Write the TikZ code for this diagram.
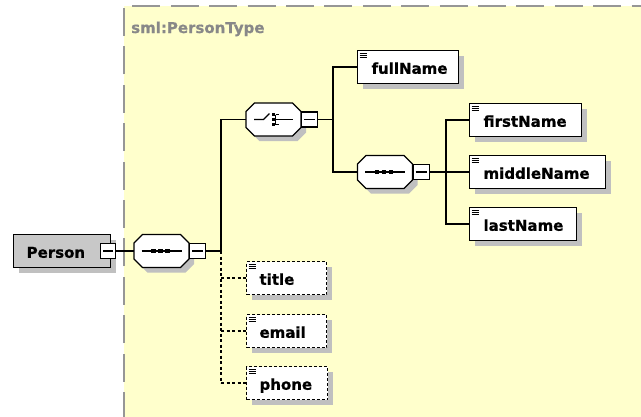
\documentclass[tikz,border=0pt]{standalone}
\usepackage{fontspec}
\newfontfamily\diagfont{DejaVu Sans}[BoldFeatures={FakeBold=0.8}]
\usetikzlibrary{shadows}

\definecolor{areafill}{RGB}{255,255,204}
\definecolor{areaedge}{RGB}{150,150,150}
\definecolor{shade}{RGB}{192,192,192}
\definecolor{typefill}{RGB}{200,200,200}
\definecolor{labelgray}{RGB}{136,136,136}

\tikzset{
  boxshadow/.style={drop shadow={shadow xshift=5pt, shadow yshift=-5pt, fill=shade, opacity=1}},
  elembox/.style={rectangle, draw=black, line width=1.1pt, fill=white, anchor=west,
    minimum height=33pt, inner sep=0pt, text height=13.5pt, text depth=0pt,
    align=left, font=\diagfont\bfseries\fontsize{15}{18}\selectfont, boxshadow},
  optbox/.style={elembox, dash pattern=on 3pt off 2pt},
  typebox/.style={elembox, fill=typefill, line width=1.3pt},
  compositor/.style={rectangle, minimum width=55pt, minimum height=33pt, inner sep=0pt},
  octagon/.style={draw=black, line width=1.1pt, fill=white, boxshadow},
  minusbox/.style={rectangle, draw=black, line width=1.1pt, fill=white, anchor=west,
    minimum width=16pt, minimum height=15pt, inner sep=0pt},
  link/.style={line width=1.1pt},
  optlink/.style={line width=1.1pt, dash pattern=on 3pt off 2.5pt},
  iconline/.style={line width=1.1pt},
}

\begin{document}
\begin{tikzpicture}[x=1pt,y=-1pt]
\useasboundingbox (0,0) rectangle (641,416);

% complex type area
\fill[areafill] (124,6) rectangle (645,420);
\draw[areaedge, line width=1.5pt, dash pattern=on 28pt off 10.4pt] (124,420) -- (124,6) -- (645,6);
\node[anchor=base west, inner sep=0pt, text=labelgray,
      font=\diagfont\bfseries\fontsize{15}{18}\selectfont] (typelabel) at (131,33) {sml:PersonType};

% root element
\node[typebox, text width=97pt] (person) at (13,251) {\hspace*{13pt}Person};
\node[minusbox, minimum width=15pt] (personm) at (100,251) {};

% compositor frames
\node[compositor] (seq1) at (161.5,251) {};
\node[compositor] (choice) at (273.5,119.5) {};
\node[compositor] (seq2) at (385,172) {};

% octagonal outlines of the compositors
\foreach \n in {seq1,choice,seq2}{
  \begin{scope}[shift={(\n.center)}]
    \path[octagon] (-19,-16.5) -- (19,-16.5) -- (27.5,-8) -- (27.5,8)
      -- (19,16.5) -- (-19,16.5) -- (-27.5,8) -- (-27.5,-8) -- cycle;
  \end{scope}
}

\node[minusbox] (seq1m) at (seq1.east) {};
\node[minusbox] (choicem) at (choice.east) {};
\node[minusbox] (seq2m) at (seq2.east) {};

% elements
\node[elembox, text width=101pt] (fullName) at (357,67) {\hspace*{14pt}fullName};
\node[elembox, text width=112pt] (firstName) at (469,120) {\hspace*{14pt}firstName};
\node[elembox, text width=136pt] (middleName) at (469,172) {\hspace*{14pt}middleName};
\node[elembox, text width=107pt] (lastName) at (469,224) {\hspace*{14pt}lastName};
\node[optbox, text width=80pt] (title) at (246,278) {\hspace*{13pt}title};
\node[optbox, text width=80pt] (email) at (246,331) {\hspace*{13pt}email};
\node[optbox, text width=81pt] (phone) at (246,383) {\hspace*{13pt}phone};

% element icons
\foreach \n in {fullName,firstName,middleName,lastName,title,email,phone}{
  \foreach \dy in {3,5,7}
    \draw[line width=0.9pt] ([shift={(2.5,\dy)}]\n.north west) -- ++(7,0);
}

% expand/collapse marks
\foreach \n in {personm,seq1m,choicem,seq2m}
  \draw[line width=1.1pt] ([xshift=3pt]\n.west) -- ([xshift=-3pt]\n.east);

% sequence icons
\foreach \n in {seq1,seq2}{
  \begin{scope}[shift={(\n.center)}]
    \draw[iconline] (-20,0) -- (20,0);
    \foreach \sx in {-8,-1,6}
      \fill (\sx-2.2,-2.2) rectangle (\sx+2.2,2.2);
  \end{scope}
}

% choice icon
\begin{scope}[shift={(choice.center)}]
  \draw[iconline] (-19.5,0) -- (-10,0) -- (-4,-6);
  \draw[iconline] (2,-5) -- (2,5);
  \draw[iconline] (2,-5) -- (5,-5);
  \draw[iconline] (2,5) -- (5,5);
  \draw[iconline] (2,0) -- (19.5,0);
  \foreach \sy in {-5,0,5}
    \fill (-2,\sy-1.7) rectangle (1.2,\sy+1.7);
\end{scope}

% joints of the connector buses
\coordinate (bus1) at (221,251);
\coordinate (bus2) at (333,119.5);
\coordinate (bus3) at (446,172);

% connectors
\draw[link] (personm.east) -- (seq1.west);
\draw[link] (seq1m.east) -- (bus1);
\draw[link] (choice.west) -| (bus1);
\draw[optlink] (bus1) -- (bus1 |- phone.west);
\draw[optlink] (bus1 |- title.west) -- (title.west);
\draw[optlink] (bus1 |- email.west) -- (email.west);
\draw[optlink] (bus1 |- phone.west) -- (phone.west);

\draw[link] (choicem.east) -- (bus2);
\draw[link] (fullName.west) -| (bus2);
\draw[link] (seq2.west) -| (bus2);

\draw[link] (seq2m.east) -- (bus3);
\draw[link] (firstName.west) -| (bus3);
\draw[link] (lastName.west) -| (bus3);
\draw[link] (middleName.west) -- (bus3);
\end{tikzpicture}
\end{document}
